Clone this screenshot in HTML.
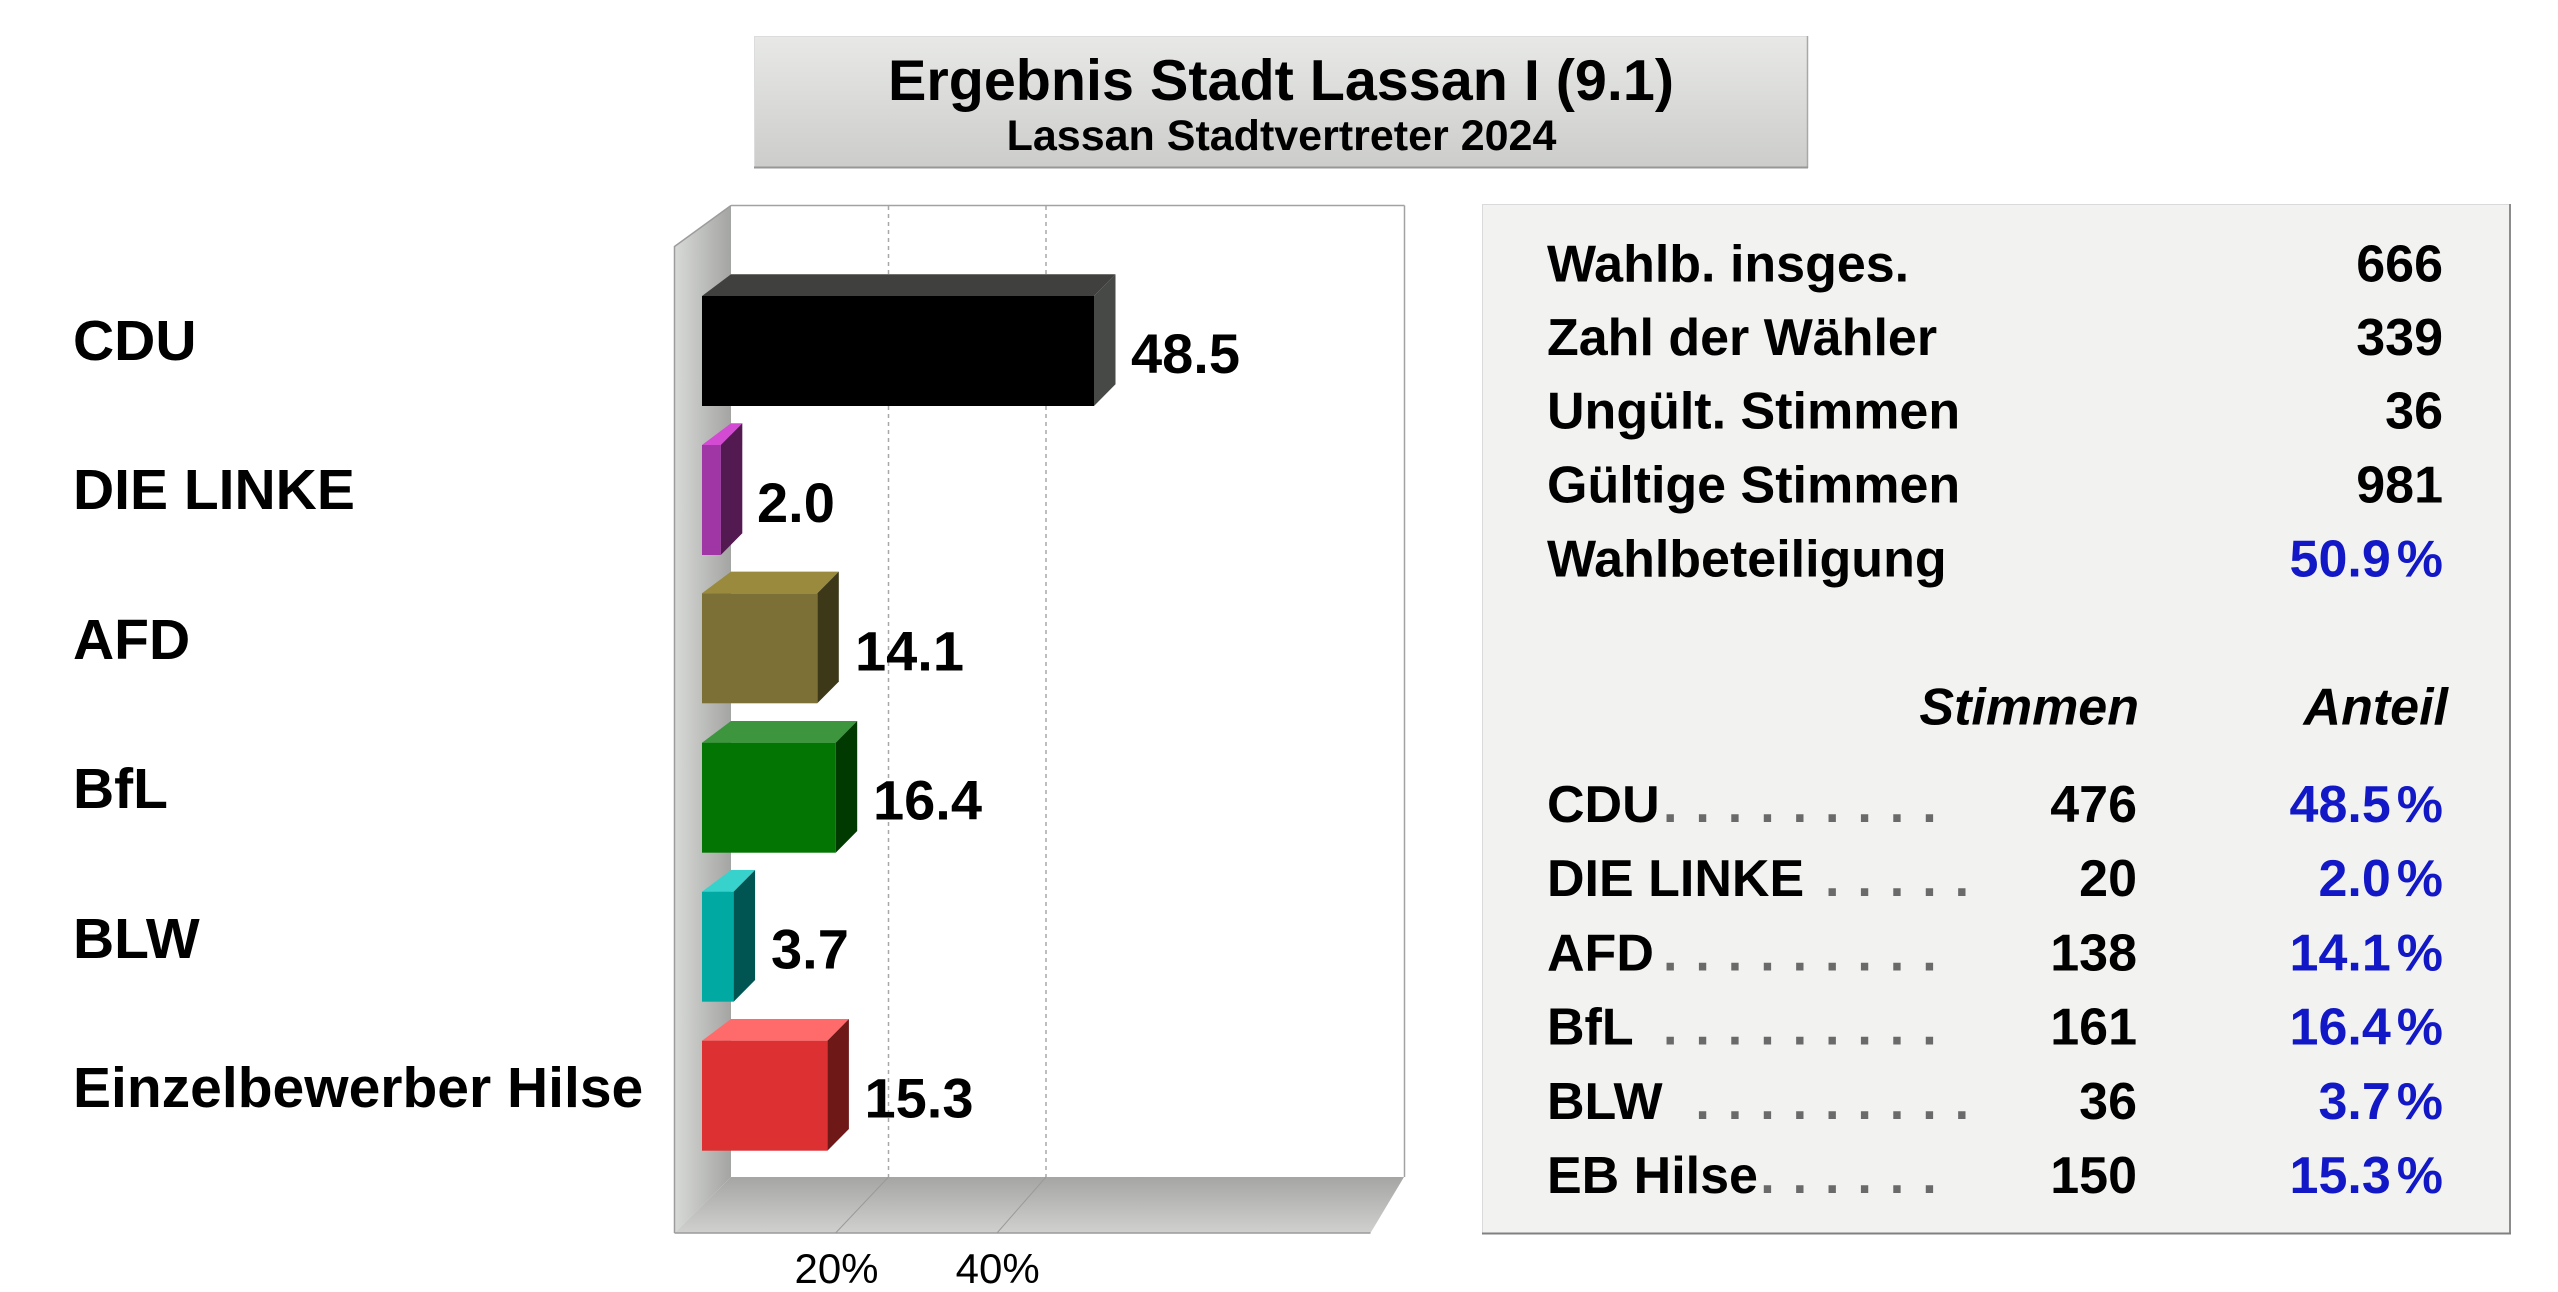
<!DOCTYPE html>
<html>
<head>
<meta charset="utf-8">
<style>
  html,body{margin:0;padding:0;background:#ffffff;}
  svg{display:block;}
  text{font-family:"Liberation Sans",Arial,sans-serif;}
</style>
</head>
<body>
<svg width="2558" height="1292" viewBox="0 0 2558 1292" xmlns="http://www.w3.org/2000/svg">
  <defs>
    <linearGradient id="titleG" x1="0" y1="0" x2="0" y2="1">
      <stop offset="0" stop-color="#e8e9e7"/>
      <stop offset="1" stop-color="#cccdcb"/>
    </linearGradient>
    <linearGradient id="wallG" x1="0" y1="0" x2="1" y2="0">
      <stop offset="0" stop-color="#d8dad7"/>
      <stop offset="1" stop-color="#a4a5a3"/>
    </linearGradient>
    <linearGradient id="floorG" x1="0" y1="0" x2="0" y2="1">
      <stop offset="0" stop-color="#a5a6a4"/>
      <stop offset="1" stop-color="#d0d1cf"/>
    </linearGradient>
  </defs>

  <!-- Title box -->
  <rect x="754" y="36" width="1054" height="132" fill="url(#titleG)"/>
  <line x1="754" y1="36.5" x2="1808" y2="36.5" stroke="#dcdcdc" stroke-width="1"/>
  <line x1="754.5" y1="36" x2="754.5" y2="168" stroke="#dcdcdc" stroke-width="1"/>
  <line x1="1807.5" y1="36" x2="1807.5" y2="168" stroke="#a8a8a8" stroke-width="1.5"/>
  <line x1="754" y1="167.5" x2="1808" y2="167.5" stroke="#979797" stroke-width="2"/>
  <text x="1281" y="100" font-size="57.5" font-weight="bold" text-anchor="middle" fill="#000">Ergebnis Stadt Lassan I (9.1)</text>
  <text x="1281.5" y="150" font-size="43" font-weight="bold" text-anchor="middle" fill="#000">Lassan Stadtvertreter 2024</text>

  <!-- Party labels (left) -->
  <g font-size="57" font-weight="bold" fill="#000">
    <text x="73" y="360">CDU</text>
    <text x="73" y="509">DIE LINKE</text>
    <text x="73" y="659">AFD</text>
    <text x="73" y="808">BfL</text>
    <text x="73" y="958">BLW</text>
    <text x="73" y="1107">Einzelbewerber Hilse</text>
  </g>

  <!-- Plot: back plane -->
  <rect x="731" y="205.5" width="673" height="971.5" fill="#ffffff"/>
  <line x1="731" y1="205.5" x2="1404.5" y2="205.5" stroke="#a2a2a2" stroke-width="1.5"/>
  <line x1="1404.5" y1="205.5" x2="1404.5" y2="1177" stroke="#a2a2a2" stroke-width="1.5"/>
  <!-- gridlines -->
  <line x1="888.5" y1="206" x2="888.5" y2="1177" stroke="#a8a8a8" stroke-width="1.5" stroke-dasharray="4 4"/>
  <line x1="1046" y1="206" x2="1046" y2="1177" stroke="#a8a8a8" stroke-width="1.5" stroke-dasharray="4 4"/>

  <!-- wall -->
  <polygon points="674.5,246.5 731,205.5 731,1177 674.5,1233" fill="url(#wallG)"/>
  <polyline points="674.5,1233 674.5,246.5 731,205.5" fill="none" stroke="#9c9c9c" stroke-width="1.5"/>
  <!-- floor -->
  <polygon points="674.5,1233 731,1177 1404,1177 1370.5,1233" fill="url(#floorG)"/>
  <line x1="674.5" y1="1233" x2="1370.5" y2="1233" stroke="#9a9a9a" stroke-width="1.5"/>
  <line x1="888.5" y1="1177" x2="835.6" y2="1233" stroke="#9a9a9a" stroke-width="1"/>
  <line x1="1046" y1="1177" x2="997" y2="1233" stroke="#9a9a9a" stroke-width="1"/>

  <!-- Bars -->
  <!-- CDU -->
  <polygon points="702,296 731,274.3 1115.5,274.3 1094,296" fill="#40413e"/>
  <polygon points="1094,296 1115.5,274.3 1115.5,384.3 1094,406" fill="#474946"/>
  <rect x="702" y="296" width="392" height="110" fill="#000000"/>
  <!-- DIE LINKE -->
  <polygon points="702,445 731,423.3 742.3,423.3 720.8,445" fill="#d24bd2"/>
  <polygon points="720.8,445 742.3,423.3 742.3,533.3 720.8,555" fill="#531a52"/>
  <rect x="702" y="445" width="18.8" height="110" fill="#a035a5"/>
  <!-- AFD -->
  <polygon points="702,593.3 731,571.6 838.8,571.6 817.3,593.3" fill="#9a8a3e"/>
  <polygon points="817.3,593.3 838.8,571.6 838.8,681.6 817.3,703.3" fill="#3d3818"/>
  <rect x="702" y="593.3" width="115.3" height="110" fill="#7d7037"/>
  <!-- BfL -->
  <polygon points="702,742.7 731,721 857.2,721 835.7,742.7" fill="#3d963d"/>
  <polygon points="835.7,742.7 857.2,721 857.2,831 835.7,852.7" fill="#003a00"/>
  <rect x="702" y="742.7" width="133.7" height="110" fill="#037503"/>
  <!-- BLW -->
  <polygon points="702,891.7 731,870 755.1,870 733.6,891.7" fill="#38d2cc"/>
  <polygon points="733.6,891.7 755.1,870 755.1,980 733.6,1001.7" fill="#005552"/>
  <rect x="702" y="891.7" width="31.6" height="110" fill="#00aaa2"/>
  <!-- EB Hilse -->
  <polygon points="702,1040.7 731,1019 848.9,1019 827.4,1040.7" fill="#ff6b6b"/>
  <polygon points="827.4,1040.7 848.9,1019 848.9,1129 827.4,1150.7" fill="#6e1818"/>
  <rect x="702" y="1040.7" width="125.4" height="110" fill="#dd3032"/>

  <!-- Value labels -->
  <g font-size="56" font-weight="bold" fill="#000">
    <text x="1131" y="373">48.5</text>
    <text x="757" y="522">2.0</text>
    <text x="855" y="670.3">14.1</text>
    <text x="873" y="819.7">16.4</text>
    <text x="771" y="968.7">3.7</text>
    <text x="864.5" y="1117.7">15.3</text>
  </g>

  <!-- Axis labels -->
  <g font-size="42" fill="#000" text-anchor="middle">
    <text x="836.5" y="1283">20%</text>
    <text x="997.7" y="1283">40%</text>
  </g>

  <!-- Table panel -->
  <rect x="1482" y="204" width="1029" height="1030" fill="#f2f3f0"/>
  <line x1="1482" y1="204.5" x2="2511" y2="204.5" stroke="#dadada" stroke-width="1"/>
  <line x1="1482.5" y1="204" x2="1482.5" y2="1234" stroke="#dadada" stroke-width="1"/>
  <line x1="2510" y1="204" x2="2510" y2="1234" stroke="#8c8c8c" stroke-width="2"/>
  <line x1="1482" y1="1233.5" x2="2511" y2="1233.5" stroke="#808080" stroke-width="2"/>

  <g font-size="52" font-weight="bold" fill="#000">
    <text x="1547" y="281.7">Wahlb. insges.</text>
    <text x="1547" y="355">Zahl der Wähler</text>
    <text x="1547" y="428.5">Ungült. Stimmen</text>
    <text x="1547" y="502.5">Gültige Stimmen</text>
    <text x="1547" y="576.7">Wahlbeteiligung</text>
  </g>
  <g font-size="52" font-weight="bold" fill="#000" text-anchor="end">
    <text x="2443" y="281.7">666</text>
    <text x="2443" y="355">339</text>
    <text x="2443" y="428.5">36</text>
    <text x="2443" y="502.5">981</text>
  </g>
  <text x="2443" y="576.7" font-size="52" font-weight="bold" fill="#1218c6" text-anchor="end">50.9<tspan dx="6">%</tspan></text>

  <!-- headers -->
  <g font-size="52" font-weight="bold" font-style="italic" fill="#000" text-anchor="end">
    <text x="2139" y="724.7">Stimmen</text>
    <text x="2448" y="724.7">Anteil</text>
  </g>

  <!-- party rows -->
  <g font-size="52" font-weight="bold" fill="#000">
    <text x="1547" y="822">CDU</text>
    <text x="1547" y="896.2">DIE LINKE</text>
    <text x="1547" y="970.4">AFD</text>
    <text x="1547" y="1044.6">BfL</text>
    <text x="1547" y="1118.8">BLW</text>
    <text x="1547" y="1193">EB Hilse</text>
  </g>
  <!-- leader dots -->
  <g font-size="52" font-weight="bold" fill="#6a6a6a">
    <text x="1663 1695.4 1727.8 1760.2 1792.6 1825 1857.4 1889.8 1922.2" y="822">.........</text>
    <text x="1825 1857.4 1889.8 1922.2 1954.6" y="896.2">.....</text>
    <text x="1663 1695.4 1727.8 1760.2 1792.6 1825 1857.4 1889.8 1922.2" y="970.4">.........</text>
    <text x="1663 1695.4 1727.8 1760.2 1792.6 1825 1857.4 1889.8 1922.2" y="1044.6">.........</text>
    <text x="1695.4 1727.8 1760.2 1792.6 1825 1857.4 1889.8 1922.2 1954.6" y="1118.8">.........</text>
    <text x="1760.2 1792.6 1825 1857.4 1889.8 1922.2" y="1193">......</text>
  </g>
  <g font-size="52" font-weight="bold" fill="#000" text-anchor="end">
    <text x="2137" y="822">476</text>
    <text x="2137" y="896.2">20</text>
    <text x="2137" y="970.4">138</text>
    <text x="2137" y="1044.6">161</text>
    <text x="2137" y="1118.8">36</text>
    <text x="2137" y="1193">150</text>
  </g>
  <g font-size="52" font-weight="bold" fill="#1218c6" text-anchor="end">
    <text x="2443" y="822">48.5<tspan dx="6">%</tspan></text>
    <text x="2443" y="896.2">2.0<tspan dx="6">%</tspan></text>
    <text x="2443" y="970.4">14.1<tspan dx="6">%</tspan></text>
    <text x="2443" y="1044.6">16.4<tspan dx="6">%</tspan></text>
    <text x="2443" y="1118.8">3.7<tspan dx="6">%</tspan></text>
    <text x="2443" y="1193">15.3<tspan dx="6">%</tspan></text>
  </g>
</svg>
</body>
</html>
